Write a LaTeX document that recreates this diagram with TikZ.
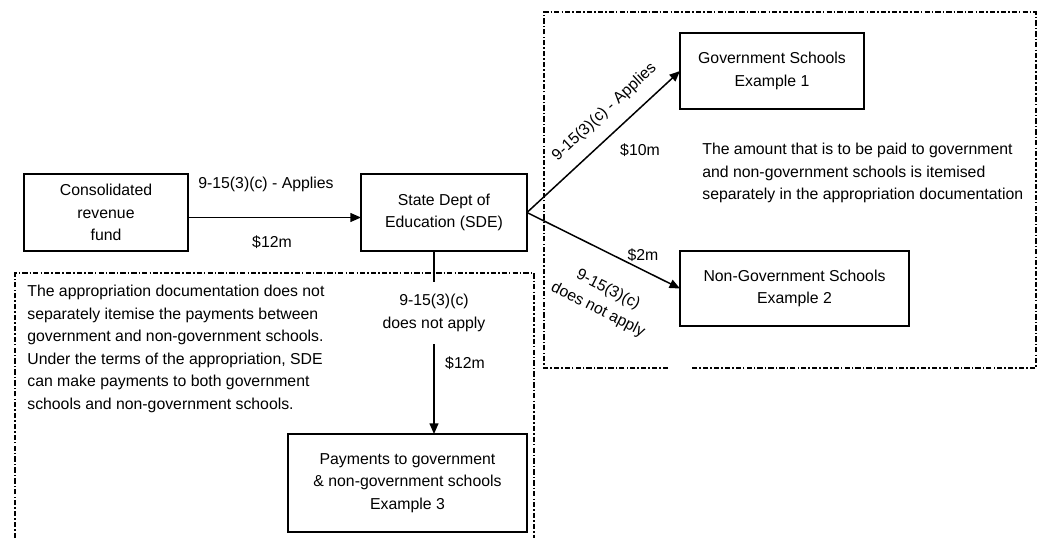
\documentclass[tikz,border=0pt]{standalone}
\usepackage{fontspec}
\setmainfont{Liberation Sans}
\usetikzlibrary{arrows.meta}

\begin{document}
\begin{tikzpicture}[x=0.02cm,y=-0.02cm,font=\fontsize{9}{12.8}\selectfont,
    box/.style={draw,line width=1.2pt,align=center,inner sep=0pt,outer sep=0pt},
    note/.style={align=left,anchor=north west,inner sep=0pt},
    flow/.style={line width=0.85pt,-{Triangle[length=6pt,width=5pt]}},
    zone/.style={line width=0.9pt,dash pattern=on 3pt off 1.2pt on 0.8pt off 1.2pt}]
    \useasboundingbox (0,0) rectangle (1042,538);
    % dash-dot regions
    \draw[zone] (15,538) -- (15,273) -- (534,273) -- (534,538);
    \draw[zone] (668,368) -- (544,368) -- (544,12) -- (1036,12) -- (1036,368) -- (690,368);
    % boxes
    \node at(106,212.5)[box,minimum width=3.28cm,minimum height=1.54cm](fund){Consolidated\\revenue\\fund};
    \node at(444,212.5)[box,minimum width=3.32cm,minimum height=1.54cm](sde){State Dept of\\Education (SDE)};
    \node at(772,71)[box,minimum width=3.68cm,minimum height=1.52cm](gov){Government Schools\\Example 1};
    \node at(794.5,288.5)[box,minimum width=4.58cm,minimum height=1.5cm](nongov){Non-Government Schools\\Example 2};
    \node at(407.5,483)[box,minimum width=4.78cm,minimum height=1.96cm](pay){Payments to government\\\& non-government schools\\Example 3};
    \node at(434,313)[align=center,inner sep=0pt,minimum height=1.24cm](dna){9-15(3)(c)\\does not apply};
    % connectors
    \draw[flow] ([yshift=-0.1cm]fund.east) -- ([yshift=-0.1cm]sde.west);
    \node at(266,184)(lblA){9-15(3)(c) - Applies};
    \node at(272,242)(amtA){\$12m};
    \draw[flow] (sde.east) -- node[pos=0.6,sloped,above=4pt]{9-15(3)(c) - Applies} (gov.west);
    \draw[flow] (sde.east) -- (nongov.west);
    \node at(640,150)(amtB){\$10m};
    \node at(643,255)(amtC){\$2m};
    \node at(603,300)[rotate=-27,align=center](lblC){9-15(3)(c)\\does not apply};
    \draw[line width=0.85pt] (sde.south -| dna) -- (dna.north);
    \draw[flow] (dna.south) -- (dna.south |- pay.north);
    \node at(465,363)(amtD){\$12m};
    % notes
    \node at(27,285)[note](textL){The appropriation documentation does not\\separately itemise the payments between\\government and non-government schools.\\Under the terms of the appropriation, SDE\\can make payments to both government\\schools and non-government schools.};
    \node at(702,143)[note](textR){The amount that is to be paid to government\\and non-government schools is itemised\\separately in the appropriation documentation};
\end{tikzpicture}
\end{document}
